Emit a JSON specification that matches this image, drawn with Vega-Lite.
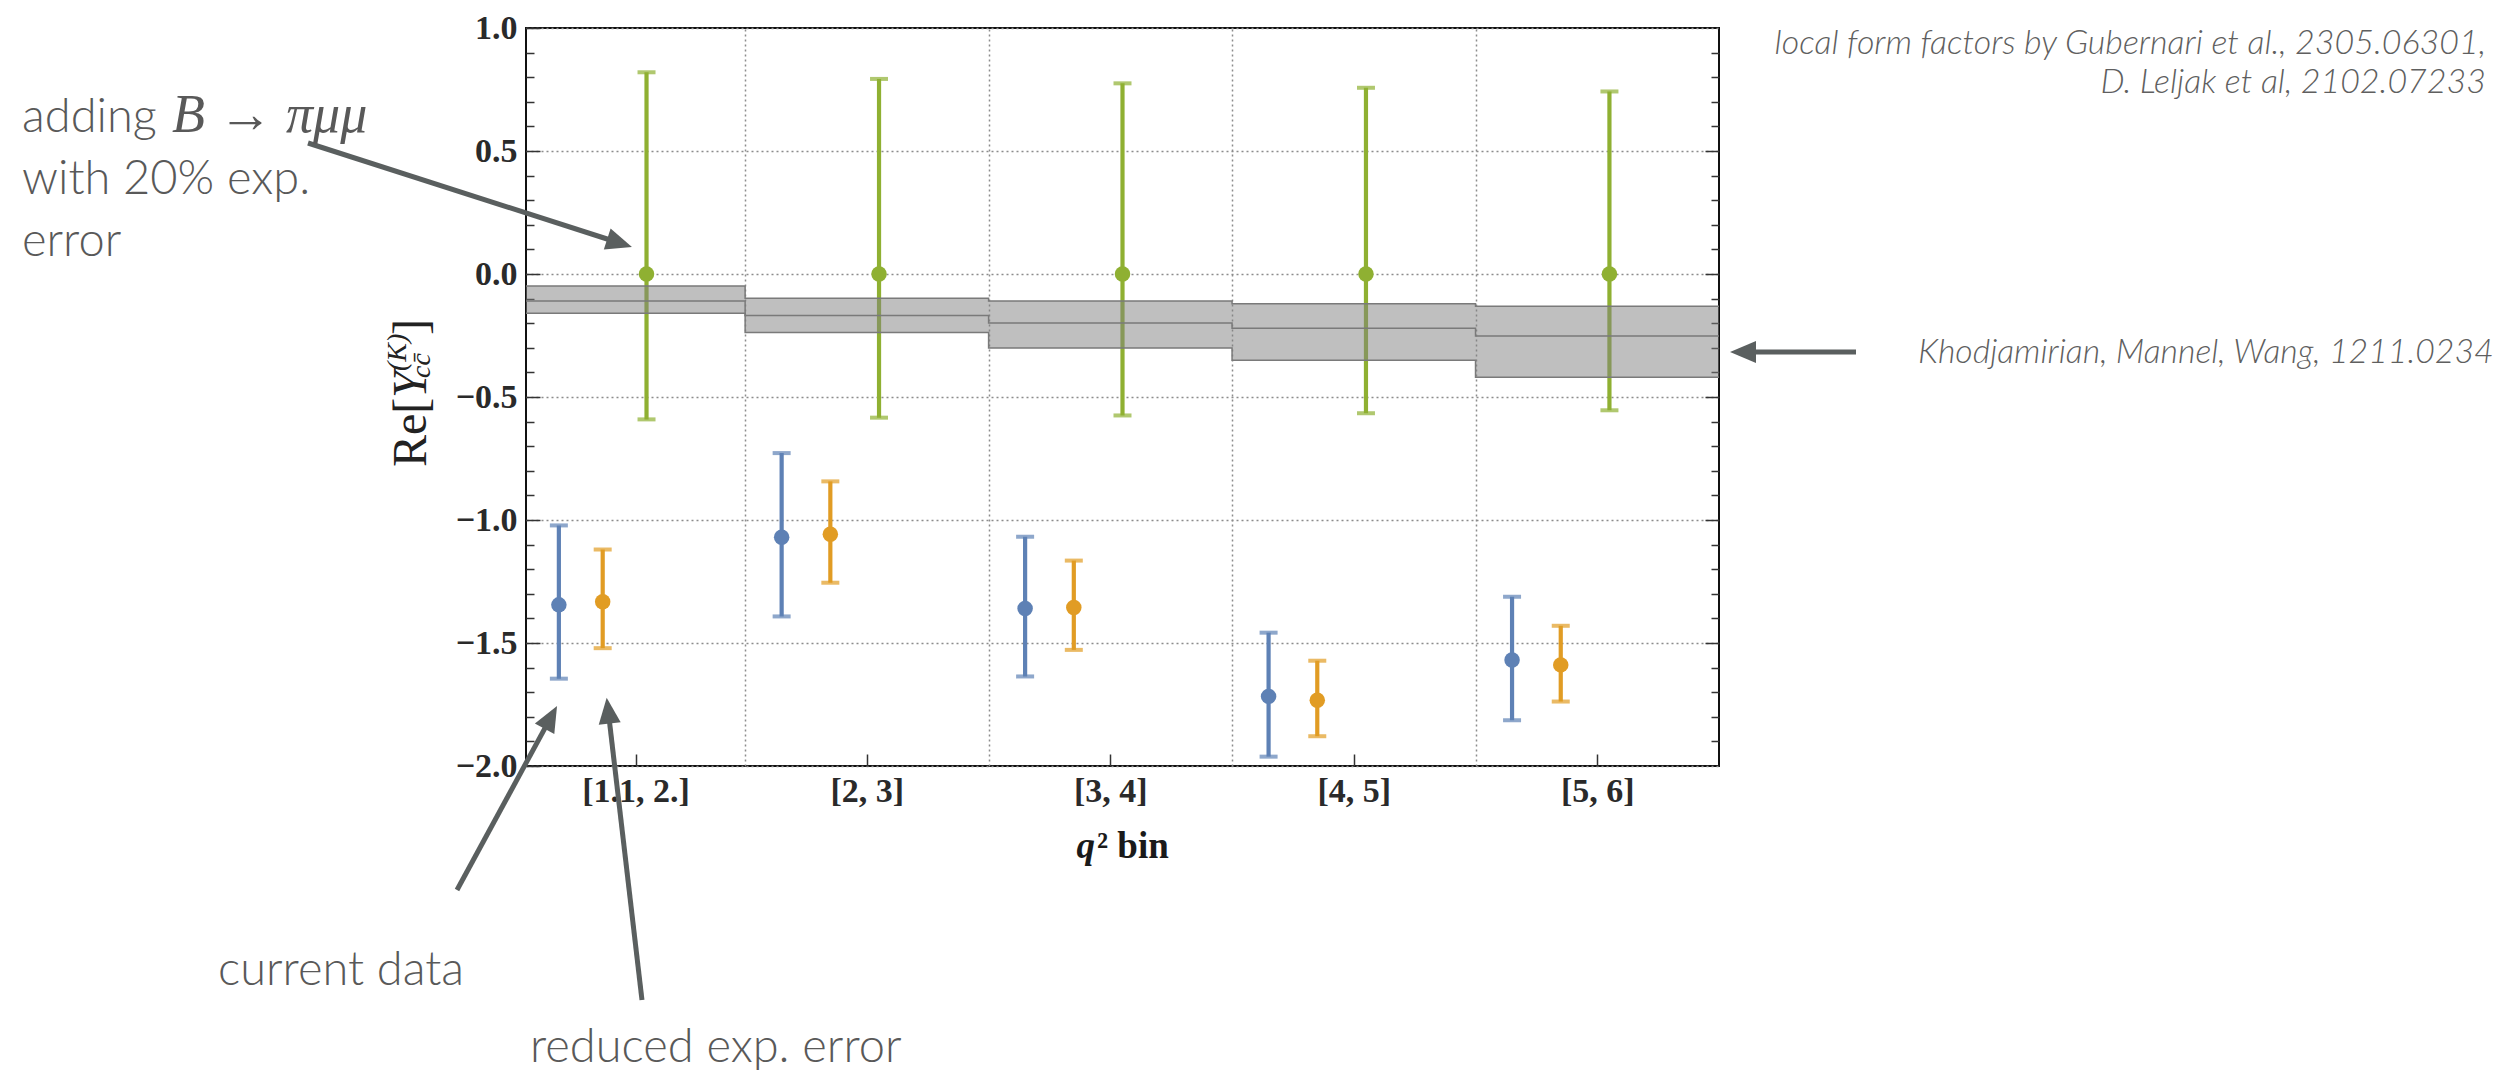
{
  "$schema": "https://vega.github.io/schema/vega-lite/v6.json",
  "width": 1193,
  "height": 738,
  "autosize": {"type": "none"},
  "padding": {"left": 526, "top": 28, "right": 796, "bottom": 310},
  "background": "white",
  "config": {
    "view": {"stroke": "#111111", "strokeWidth": 2},
    "axis": {"labelFont": "Liberation Serif", "labelFontSize": 34, "labelFontWeight": "bold", "labelColor": "#2a2a2a", "tickColor": "#333333", "tickWidth": 1.5, "titleFont": "Liberation Serif"}
  },
  "resolve": {"axis": {"x": "independent", "y": "independent"}},
  "datasets": {
    "pts": [
      {"bin": "[1.1, 2.]", "series": "current", "q": 1.235, "val": -1.345, "lo": -1.645, "hi": -1.022},
      {"bin": "[1.1, 2.]", "series": "reduced", "q": 1.415, "val": -1.332, "lo": -1.521, "hi": -1.120},
      {"bin": "[1.1, 2.]", "series": "pimumu", "q": 1.595, "val": 0, "lo": -0.591, "hi": 0.820},
      {"bin": "[2, 3]", "series": "current", "q": 2.15, "val": -1.070, "lo": -1.392, "hi": -0.728},
      {"bin": "[2, 3]", "series": "reduced", "q": 2.35, "val": -1.058, "lo": -1.255, "hi": -0.843},
      {"bin": "[2, 3]", "series": "pimumu", "q": 2.55, "val": 0, "lo": -0.584, "hi": 0.793},
      {"bin": "[3, 4]", "series": "current", "q": 3.15, "val": -1.360, "lo": -1.636, "hi": -1.068},
      {"bin": "[3, 4]", "series": "reduced", "q": 3.35, "val": -1.356, "lo": -1.528, "hi": -1.165},
      {"bin": "[3, 4]", "series": "pimumu", "q": 3.55, "val": 0, "lo": -0.575, "hi": 0.775},
      {"bin": "[4, 5]", "series": "current", "q": 4.15, "val": -1.717, "lo": -1.962, "hi": -1.458},
      {"bin": "[4, 5]", "series": "reduced", "q": 4.35, "val": -1.733, "lo": -1.879, "hi": -1.572},
      {"bin": "[4, 5]", "series": "pimumu", "q": 4.55, "val": 0, "lo": -0.566, "hi": 0.757},
      {"bin": "[5, 6]", "series": "current", "q": 5.15, "val": -1.569, "lo": -1.814, "hi": -1.312},
      {"bin": "[5, 6]", "series": "reduced", "q": 5.35, "val": -1.589, "lo": -1.738, "hi": -1.430},
      {"bin": "[5, 6]", "series": "pimumu", "q": 5.55, "val": 0, "lo": -0.554, "hi": 0.742}
    ],
    "edges": [
      {"q": 1.1, "low": -0.160, "mid": -0.110, "high": -0.049},
      {"q": 2, "low": -0.238, "mid": -0.169, "high": -0.099},
      {"q": 3, "low": -0.301, "mid": -0.199, "high": -0.110},
      {"q": 4, "low": -0.351, "mid": -0.221, "high": -0.121},
      {"q": 5, "low": -0.420, "mid": -0.252, "high": -0.131},
      {"q": 6, "low": -0.420, "mid": -0.252, "high": -0.131}
    ],
    "arrows": [
      {"x1": 0.2046, "y1": 0.5325, "x2": 1.4844, "y2": 0.126, "ang": 17.8},
      {"x1": 0.8166, "y1": -2.504, "x2": 1.2019, "y2": -1.8024, "ang": 298.6},
      {"x1": 1.5764, "y1": -2.9512, "x2": 1.4376, "y2": -1.7748, "ang": 263.3},
      {"x1": 6.5627, "y1": -0.3171, "x2": 6.0986, "y2": -0.3171, "ang": 180}
    ],
    "notes": [
      {"text": "adding", "q": -0.9701, "v": 0.5772},
      {"text": "with 20% exp.", "q": -0.9701, "v": 0.3252},
      {"text": "error", "q": -0.9701, "v": 0.0732},
      {"text": "current data", "q": -0.1651, "v": -2.8902},
      {"text": "reduced exp. error", "q": 1.1164, "v": -3.2033}
    ],
    "math": [{"text": "B → πμμ", "q": -0.354, "v": 0.5772}],
    "refsRight": [
      {"text": "local form factors by Gubernari et al., 2305.06301,", "q": 9.1503, "v": 0.8943},
      {"text": "D. Leljak et al, 2102.07233", "q": 9.1503, "v": 0.7358}
    ],
    "refLeft": [{"text": "Khodjamirian, Mannel, Wang, 1211.0234", "q": 6.8173, "v": -0.3618}],
    "xtQ": [{"text": "q", "q": 3.3611, "v": -2.374}],
    "xtRest": [{"text": "² bin", "q": 3.4453, "v": -2.374}],
    "ytMain": [
      {"text": "Re[", "q": 0.6893, "v": -0.7846},
      {"text": "]", "q": 0.6893, "v": -0.2480}
    ],
    "ytY": [{"text": "Y", "q": 0.6893, "v": -0.5041}],
    "ytSup": [{"text": "(K)", "q": 0.6071, "v": -0.3943}],
    "ytSub": [{"text": "cc̄", "q": 0.7057, "v": -0.4228}]
  },
  "layer": [
    {
      "data": {"name": "pts"},
      "mark": {"type": "rule", "strokeWidth": 4.2},
      "encoding": {
        "x": {"field": "q", "type": "quantitative", "scale": {"domain": [1.1, 6], "nice": false, "zero": false},
          "axis": {"orient": "bottom", "values": [1.55, 2.5, 3.5, 4.5, 5.5], "labelExpr": "datum.value < 2 ? '[1.1, 2.]' : '[' + floor(datum.value) + ', ' + (floor(datum.value) + 1) + ']'", "tickSize": -12, "domain": false, "grid": false, "labelPadding": 20, "labelFlush": false, "labelOverlap": false, "title": null}},
        "y": {"field": "lo", "type": "quantitative", "scale": {"domain": [-2, 1], "nice": false, "zero": false},
          "axis": {"orient": "left", "values": [-2, -1.5, -1, -0.5, 0, 0.5, 1], "format": ".1f", "tickSize": -14, "labelPadding": 23, "grid": true, "gridDash": [2, 3], "gridColor": "#8c8c8c", "gridWidth": 1.5, "domain": false, "title": null}},
        "y2": {"field": "hi"},
        "color": {"field": "series", "type": "nominal", "scale": {"domain": ["current", "reduced", "pimumu"], "range": ["#5e81b5", "#e19c24", "#8fb032"]}, "legend": null}
      }
    },
    {
      "data": {"name": "pts"},
      "mark": {"type": "tick", "orient": "horizontal", "size": 18, "thickness": 4},
      "encoding": {
        "x": {"field": "q", "type": "quantitative", "scale": {"domain": [1.1, 6], "nice": false, "zero": false}, "axis": null},
        "y": {"field": "lo", "type": "quantitative", "scale": {"domain": [-2, 1], "nice": false, "zero": false}, "axis": null},
        "color": {"field": "series", "type": "nominal", "legend": null}
      }
    },
    {
      "data": {"name": "pts"},
      "mark": {"type": "tick", "orient": "horizontal", "size": 18, "thickness": 4},
      "encoding": {
        "x": {"field": "q", "type": "quantitative", "scale": {"domain": [1.1, 6], "nice": false, "zero": false}, "axis": null},
        "y": {"field": "hi", "type": "quantitative", "scale": {"domain": [-2, 1], "nice": false, "zero": false}, "axis": null},
        "color": {"field": "series", "type": "nominal", "legend": null}
      }
    },
    {
      "data": {"name": "pts"},
      "mark": {"type": "circle", "size": 240, "opacity": 1},
      "encoding": {
        "x": {"field": "q", "type": "quantitative", "scale": {"domain": [1.1, 6], "nice": false, "zero": false}, "axis": null},
        "y": {"field": "val", "type": "quantitative", "scale": {"domain": [-2, 1], "nice": false, "zero": false}, "axis": null},
        "color": {"field": "series", "type": "nominal", "legend": null}
      }
    },
    {
      "data": {"name": "edges"},
      "mark": {"type": "area", "interpolate": "step-after", "color": "#808080", "fillOpacity": 0.5},
      "encoding": {
        "x": {"field": "q", "type": "quantitative", "scale": {"domain": [1.1, 6], "nice": false, "zero": false}, "axis": null},
        "y": {"field": "low", "type": "quantitative", "scale": {"domain": [-2, 1], "nice": false, "zero": false}, "axis": null},
        "y2": {"field": "high"}
      }
    },
    {
      "data": {"name": "edges"},
      "mark": {"type": "line", "interpolate": "step-after", "color": "#7a7a7a", "strokeWidth": 1.5},
      "encoding": {
        "x": {"field": "q", "type": "quantitative", "scale": {"domain": [1.1, 6], "nice": false, "zero": false}, "axis": null},
        "y": {"field": "low", "type": "quantitative", "scale": {"domain": [-2, 1], "nice": false, "zero": false}, "axis": null}
      }
    },
    {
      "data": {"name": "edges"},
      "mark": {"type": "line", "interpolate": "step-after", "color": "#7a7a7a", "strokeWidth": 1.5},
      "encoding": {
        "x": {"field": "q", "type": "quantitative", "scale": {"domain": [1.1, 6], "nice": false, "zero": false}, "axis": null},
        "y": {"field": "mid", "type": "quantitative", "scale": {"domain": [-2, 1], "nice": false, "zero": false}, "axis": null}
      }
    },
    {
      "data": {"name": "edges"},
      "mark": {"type": "line", "interpolate": "step-after", "color": "#7a7a7a", "strokeWidth": 1.5},
      "encoding": {
        "x": {"field": "q", "type": "quantitative", "scale": {"domain": [1.1, 6], "nice": false, "zero": false}, "axis": null},
        "y": {"field": "high", "type": "quantitative", "scale": {"domain": [-2, 1], "nice": false, "zero": false}, "axis": null}
      }
    },
    {
      "data": {"name": "edges"},
      "mark": {"type": "rule", "strokeOpacity": 0},
      "encoding": {
        "y": {"field": "mid", "type": "quantitative", "scale": {"domain": [-2, 1], "nice": false, "zero": false},
          "axis": {"orient": "left", "values": [-1.9, -1.8, -1.7, -1.6, -1.4, -1.3, -1.2, -1.1, -0.9, -0.8, -0.7, -0.6, -0.4, -0.3, -0.2, -0.1, 0.1, 0.2, 0.3, 0.4, 0.6, 0.7, 0.8, 0.9], "labels": false, "tickSize": -8, "grid": false, "domain": false, "title": null}}
      }
    },
    {
      "data": {"name": "edges"},
      "mark": {"type": "rule", "strokeOpacity": 0},
      "encoding": {
        "y": {"field": "mid", "type": "quantitative", "scale": {"domain": [-2, 1], "nice": false, "zero": false},
          "axis": {"orient": "right", "values": [-1.5, -1, -0.5, 0, 0.5], "labels": false, "tickSize": -14, "grid": false, "domain": false, "title": null}}
      }
    },
    {
      "data": {"name": "edges"},
      "mark": {"type": "rule", "strokeOpacity": 0},
      "encoding": {
        "y": {"field": "mid", "type": "quantitative", "scale": {"domain": [-2, 1], "nice": false, "zero": false},
          "axis": {"orient": "right", "values": [-1.9, -1.8, -1.7, -1.6, -1.4, -1.3, -1.2, -1.1, -0.9, -0.8, -0.7, -0.6, -0.4, -0.3, -0.2, -0.1, 0.1, 0.2, 0.3, 0.4, 0.6, 0.7, 0.8, 0.9], "labels": false, "tickSize": -8, "grid": false, "domain": false, "title": null}}
      }
    },
    {
      "data": {"name": "edges"},
      "mark": {"type": "rule", "strokeOpacity": 0},
      "encoding": {
        "x": {"field": "q", "type": "quantitative", "scale": {"domain": [1.1, 6], "nice": false, "zero": false},
          "axis": {"orient": "bottom", "values": [2, 3, 4, 5], "labels": false, "ticks": false, "grid": true, "gridDash": [2, 3], "gridColor": "#8c8c8c", "gridWidth": 1.5, "domain": false, "title": null}}
      }
    },
    {
      "data": {"name": "arrows"},
      "mark": {"type": "rule", "color": "#5a5f5f", "strokeWidth": 5},
      "encoding": {
        "x": {"field": "x1", "type": "quantitative", "scale": {"domain": [1.1, 6], "nice": false, "zero": false}, "axis": null},
        "y": {"field": "y1", "type": "quantitative", "scale": {"domain": [-2, 1], "nice": false, "zero": false}, "axis": null},
        "x2": {"field": "x2"},
        "y2": {"field": "y2"}
      }
    },
    {
      "data": {"name": "arrows"},
      "mark": {"type": "point", "shape": "M-1,-0.85L1,0L-1,0.85Z", "size": 676, "filled": true, "color": "#5a5f5f", "opacity": 1},
      "encoding": {
        "x": {"field": "x2", "type": "quantitative", "scale": {"domain": [1.1, 6], "nice": false, "zero": false}, "axis": null},
        "y": {"field": "y2", "type": "quantitative", "scale": {"domain": [-2, 1], "nice": false, "zero": false}, "axis": null},
        "angle": {"field": "ang", "type": "quantitative", "scale": null}
      }
    },
    {
      "data": {"name": "notes"},
      "mark": {"type": "text", "font": "Lato", "fontWeight": 300, "fontSize": 47, "color": "#595959", "align": "left", "baseline": "alphabetic"},
      "encoding": {
        "x": {"field": "q", "type": "quantitative", "scale": {"domain": [1.1, 6], "nice": false, "zero": false}, "axis": null},
        "y": {"field": "v", "type": "quantitative", "scale": {"domain": [-2, 1], "nice": false, "zero": false}, "axis": null},
        "text": {"field": "text"}
      }
    },
    {
      "data": {"name": "math"},
      "mark": {"type": "text", "font": "Liberation Serif", "fontStyle": "italic", "fontSize": 54, "color": "#595959", "align": "left", "baseline": "alphabetic"},
      "encoding": {
        "x": {"field": "q", "type": "quantitative", "scale": {"domain": [1.1, 6], "nice": false, "zero": false}, "axis": null},
        "y": {"field": "v", "type": "quantitative", "scale": {"domain": [-2, 1], "nice": false, "zero": false}, "axis": null},
        "text": {"field": "text"}
      }
    },
    {
      "data": {"name": "refsRight"},
      "mark": {"type": "text", "font": "Lato", "fontWeight": 300, "fontStyle": "italic", "fontSize": 34, "color": "#5f5f5f", "align": "right", "baseline": "alphabetic"},
      "encoding": {
        "x": {"field": "q", "type": "quantitative", "scale": {"domain": [1.1, 6], "nice": false, "zero": false}, "axis": null},
        "y": {"field": "v", "type": "quantitative", "scale": {"domain": [-2, 1], "nice": false, "zero": false}, "axis": null},
        "text": {"field": "text"}
      }
    },
    {
      "data": {"name": "refLeft"},
      "mark": {"type": "text", "font": "Lato", "fontWeight": 300, "fontStyle": "italic", "fontSize": 33.8, "color": "#5f5f5f", "align": "left", "baseline": "alphabetic"},
      "encoding": {
        "x": {"field": "q", "type": "quantitative", "scale": {"domain": [1.1, 6], "nice": false, "zero": false}, "axis": null},
        "y": {"field": "v", "type": "quantitative", "scale": {"domain": [-2, 1], "nice": false, "zero": false}, "axis": null},
        "text": {"field": "text"}
      }
    },
    {
      "data": {"name": "xtQ"},
      "mark": {"type": "text", "font": "Liberation Serif", "fontStyle": "italic", "fontWeight": "bold", "fontSize": 37, "color": "#1a1a1a", "align": "left", "baseline": "alphabetic"},
      "encoding": {
        "x": {"field": "q", "type": "quantitative", "scale": {"domain": [1.1, 6], "nice": false, "zero": false}, "axis": null},
        "y": {"field": "v", "type": "quantitative", "scale": {"domain": [-2, 1], "nice": false, "zero": false}, "axis": null},
        "text": {"field": "text"}
      }
    },
    {
      "data": {"name": "xtRest"},
      "mark": {"type": "text", "font": "Liberation Serif", "fontWeight": "bold", "fontSize": 37, "color": "#1a1a1a", "align": "left", "baseline": "alphabetic"},
      "encoding": {
        "x": {"field": "q", "type": "quantitative", "scale": {"domain": [1.1, 6], "nice": false, "zero": false}, "axis": null},
        "y": {"field": "v", "type": "quantitative", "scale": {"domain": [-2, 1], "nice": false, "zero": false}, "axis": null},
        "text": {"field": "text"}
      }
    },
    {
      "data": {"name": "ytMain"},
      "mark": {"type": "text", "font": "Liberation Serif", "fontSize": 48, "color": "#222222", "align": "left", "baseline": "alphabetic", "angle": 270},
      "encoding": {
        "x": {"field": "q", "type": "quantitative", "scale": {"domain": [1.1, 6], "nice": false, "zero": false}, "axis": null},
        "y": {"field": "v", "type": "quantitative", "scale": {"domain": [-2, 1], "nice": false, "zero": false}, "axis": null},
        "text": {"field": "text"}
      }
    },
    {
      "data": {"name": "ytY"},
      "mark": {"type": "text", "font": "Liberation Serif", "fontStyle": "italic", "fontSize": 48, "color": "#222222", "align": "left", "baseline": "alphabetic", "angle": 270},
      "encoding": {
        "x": {"field": "q", "type": "quantitative", "scale": {"domain": [1.1, 6], "nice": false, "zero": false}, "axis": null},
        "y": {"field": "v", "type": "quantitative", "scale": {"domain": [-2, 1], "nice": false, "zero": false}, "axis": null},
        "text": {"field": "text"}
      }
    },
    {
      "data": {"name": "ytSup"},
      "mark": {"type": "text", "font": "Liberation Serif", "fontStyle": "italic", "fontSize": 28, "color": "#222222", "align": "left", "baseline": "alphabetic", "angle": 270},
      "encoding": {
        "x": {"field": "q", "type": "quantitative", "scale": {"domain": [1.1, 6], "nice": false, "zero": false}, "axis": null},
        "y": {"field": "v", "type": "quantitative", "scale": {"domain": [-2, 1], "nice": false, "zero": false}, "axis": null},
        "text": {"field": "text"}
      }
    },
    {
      "data": {"name": "ytSub"},
      "mark": {"type": "text", "font": "Liberation Serif", "fontStyle": "italic", "fontSize": 28, "color": "#222222", "align": "left", "baseline": "alphabetic", "angle": 270},
      "encoding": {
        "x": {"field": "q", "type": "quantitative", "scale": {"domain": [1.1, 6], "nice": false, "zero": false}, "axis": null},
        "y": {"field": "v", "type": "quantitative", "scale": {"domain": [-2, 1], "nice": false, "zero": false}, "axis": null},
        "text": {"field": "text"}
      }
    }
  ]
}
